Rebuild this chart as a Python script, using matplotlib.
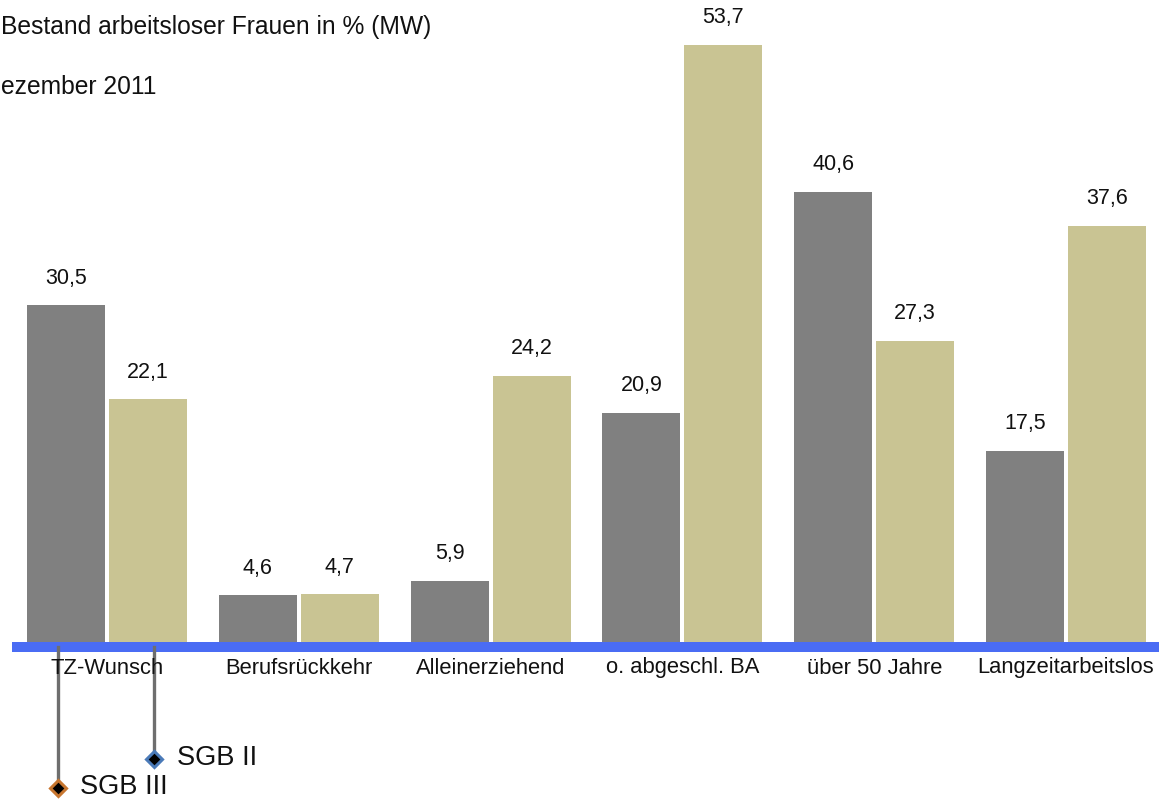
#!/usr/bin/env python3
"""Bestand arbeitsloser Frauen in % (MW), Dezember 2011 - SGB III vs SGB II."""

import matplotlib
matplotlib.use("Agg")
import matplotlib.pyplot as plt
import numpy as np

categories = ["TZ-Wunsch", "Berufsrückkehr", "Alleinerziehend",
              "o. abgeschl. BA", "über 50 Jahre", "Langzeitarbeitslos"]
sgb3 = [30.5, 4.6, 5.9, 20.9, 40.6, 17.5]
sgb2 = [22.1, 4.7, 24.2, 53.7, 27.3, 37.6]

plt.rcParams["font.family"] = ["Liberation Sans", "DejaVu Sans"]

W, H = 1159, 801
fig = plt.figure(figsize=(W / 100, H / 100), dpi=100)
ax = fig.add_axes([0, 0, 1, 1])

# pixel layout of the original
x0_px, step_px = 107.0, 191.8      # centre of first group, spacing
base_px, unit_px = 647.0, 11.21    # baseline y, px per percent

ax.set_xlim(-x0_px / step_px, (W - x0_px) / step_px)
ax.set_ylim(-(H - base_px) / unit_px, base_px / unit_px)
ax.axis("off")


def px_x(px):
    return (px - x0_px) / step_px


def px_y(py):
    return (base_px - py) / unit_px


x = np.arange(len(categories))
width = 78 / step_px
off = 41 / step_px

gray = "#808080"
beige = "#c9c493"
b1 = ax.bar(x - off, sgb3, width, color=gray, zorder=2)
b2 = ax.bar(x + off, sgb2, width, color=beige, zorder=2)

for bars, vals in ((b1, sgb3), (b2, sgb2)):
    for rect, v in zip(bars, vals):
        ax.annotate(f"{v:.1f}".replace(".", ","),
                    (rect.get_x() + rect.get_width() / 2, v),
                    xytext=(0, 19.5), textcoords="offset points",
                    ha="center", va="center", fontsize=15.5, color="#111111")

# blue baseline
ax.plot([px_x(12), px_x(W)], [0, 0], color="#4a6cf4", lw=7.2,
        solid_capstyle="butt", zorder=3)

for xi, cat in zip(x, categories):
    ax.text(xi, px_y(668), cat, ha="center", va="center",
            fontsize=15.8, color="#111111", zorder=4)

# legend with leader lines
ax.plot([px_x(58), px_x(58)], [0, px_y(788)], color="#6e6e6e", lw=2.4, zorder=3)
ax.plot([px_x(154), px_x(154)], [0, px_y(759)], color="#6e6e6e", lw=2.4, zorder=3)
ax.plot(px_x(58), px_y(788), marker="D", ms=8, mfc="black",
        mec="#c8762f", mew=2.2, zorder=5)
ax.plot(px_x(154), px_y(759), marker="D", ms=8, mfc="black",
        mec="#4a7ab8", mew=2.2, zorder=5)
ax.text(px_x(80), px_y(787), "SGB III", ha="left", va="center",
        fontsize=19.6, color="#111111")
ax.text(px_x(177), px_y(758), "SGB II", ha="left", va="center",
        fontsize=19.6, color="#111111")

fig.text(1 / W, 1 - 27 / H, "Bestand arbeitsloser Frauen in % (MW)",
         ha="left", va="center", fontsize=17.7, color="#111111")
fig.text(1 / W, 1 - 87 / H, "ezember 2011",
         ha="left", va="center", fontsize=17.7, color="#111111")

fig.savefig("out.png", dpi=100)
